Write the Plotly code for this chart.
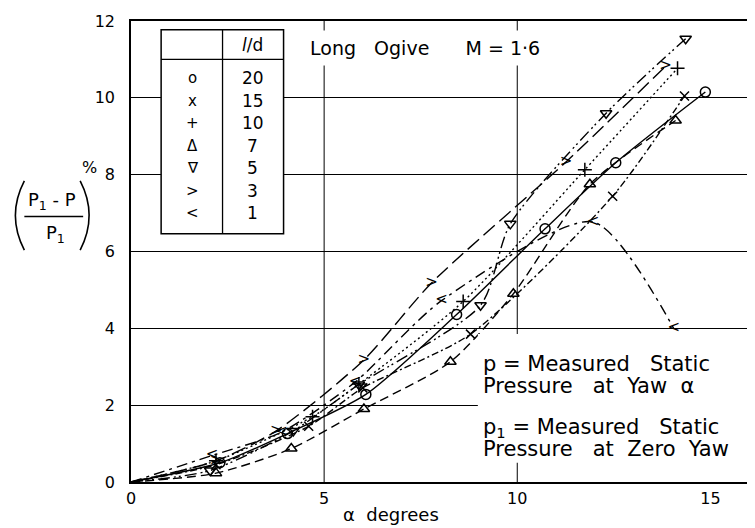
import plotly.graph_objects as go

# ---------------- data ----------------
x_ticks = [0, 5, 10, 15]
y_ticks = [0, 2, 4, 6, 8, 10, 12]

ld_values = ["20", "15", "10", "7", "5", "3", "1"]
ld_symbols = ["o", "x", "+", "Δ", "∇", ">", "<"]

x_20 = [2.3, 4.05, 6.08, 8.43, 10.72, 12.55, 14.87]
y_20 = [0.5, 1.26, 2.28, 4.36, 6.59, 8.31, 10.15]

x_15 = [2.2, 4.6, 6.0, 8.79, 12.47, 14.33]
y_15 = [0.45, 1.45, 2.45, 3.85, 7.44, 10.05]

x_10 = [2.2, 4.7, 5.9, 8.6, 11.75, 14.15]
y_10 = [0.55, 1.7, 2.55, 4.7, 8.13, 10.77]

x_7 = [2.2, 4.15, 6.03, 8.27, 9.9, 11.88, 14.1]
y_7 = [0.23, 0.87, 1.9, 3.13, 4.9, 7.75, 9.41]

x_5 = [2.05, 4.2, 5.9, 9.05, 9.82, 12.3, 14.36]
y_5 = [0.3, 1.33, 2.54, 4.6, 6.72, 9.6, 11.54]

x_3 = [2.2, 3.76, 6.03, 7.78, 11.26, 13.84]
y_3 = [0.55, 1.33, 3.18, 5.18, 8.33, 10.82]

x_1 = [2.1, 3.9, 5.8, 8.04, 11.96, 14.05]
y_1 = [0.69, 1.3, 2.6, 4.72, 6.77, 4.0]

series = [
    (x_20, y_20, "solid", dict(kind="marker", symbol="circle-open", size=10)),
    (x_15, y_15, "7px,3px,2px,3px", dict(kind="marker", symbol="x-thin-open", size=9)),
    (x_10, y_10, "2px,3px", dict(kind="marker", symbol="cross-thin-open", size=10)),
    (x_7, y_7, "9px,5px", dict(kind="marker", symbol="triangle-up-open", size=10)),
    (x_5, y_5, "12px,4px,2px,3px,2px,4px", dict(kind="marker", symbol="triangle-down-open", size=10)),
    (x_3, y_3, "15px,6px", dict(kind="text", text=">")),
    (x_1, y_1, "11px,5px,3px,5px", dict(kind="text", text="<")),
]

FONT = "DejaVu Sans"
fig = go.Figure()

for xs, ys, dash, mk in series:
    fig.add_trace(go.Scatter(
        x=[0] + xs, y=[0] + ys, mode="lines",
        line=dict(color="black", width=1.4, dash=dash, shape="spline", smoothing=0.7),
        showlegend=False, hoverinfo="skip"))
    if mk["kind"] == "marker":
        fig.add_trace(go.Scatter(
            x=xs, y=ys, mode="markers",
            marker=dict(symbol=mk["symbol"], size=mk["size"], color="black",
                        line=dict(color="black", width=1.5)),
            showlegend=False, hoverinfo="skip"))
    else:
        fig.add_trace(go.Scatter(
            x=xs, y=ys, mode="text", text=[mk["text"]] * len(xs),
            textposition="middle center",
            textfont=dict(family=FONT, size=15, color="black"),
            showlegend=False, hoverinfo="skip"))

# screenshot pixel -> paper helpers (plot area: x 131..751, y 15..482)
def px2x(px):
    return (px - 131) / 620.0

def py2y(py):
    return (482 - py) / 467.0

shapes = []
for gx in [5, 10]:
    shapes.append(dict(type="line", xref="x", yref="y", x0=gx, x1=gx, y0=0, y1=12,
                       line=dict(color="black", width=1), layer="below"))

# legend table
tx0, tx1, tdiv = 0.78, 3.95, 2.37
ty0, ty1, thead = 6.46, 11.77, 11.0
shapes.append(dict(type="rect", xref="x", yref="y", x0=tx0, x1=tx1, y0=ty0, y1=ty1,
                   fillcolor="white", line=dict(color="black", width=1.5), layer="above"))
shapes.append(dict(type="line", xref="x", yref="y", x0=tdiv, x1=tdiv, y0=ty0, y1=ty1,
                   line=dict(color="black", width=1.3), layer="above"))
shapes.append(dict(type="line", xref="x", yref="y", x0=tx0, x1=tx1, y0=thead, y1=thead,
                   line=dict(color="black", width=1.3), layer="above"))

# lower-right note box (white, covers grid)
shapes.append(dict(type="rect", xref="x", yref="y", x0=8.98, x1=15.96, y0=0.5, y1=3.85,
                   fillcolor="white", line=dict(width=0), layer="above"))

# y-axis title parentheses and fraction bar
shapes.append(dict(type="path", xref="paper", yref="paper",
                   path=f"M {px2x(24)},{py2y(177)} Q {px2x(6)},{py2y(212)} {px2x(24)},{py2y(247)}",
                   line=dict(color="black", width=1.6)))
shapes.append(dict(type="path", xref="paper", yref="paper",
                   path=f"M {px2x(80)},{py2y(177)} Q {px2x(98)},{py2y(212)} {px2x(80)},{py2y(247)}",
                   line=dict(color="black", width=1.6)))
shapes.append(dict(type="line", xref="paper", yref="paper",
                   x0=px2x(24), x1=px2x(83), y0=py2y(213), y1=py2y(213),
                   line=dict(color="black", width=1.5)))


def ann(x, y, text, size, xref="x", yref="y", xanchor="center", **kw):
    return dict(x=x, y=y, xref=xref, yref=yref, text=text, showarrow=False,
                xanchor=xanchor, yanchor="middle",
                font=dict(family=FONT, size=size, color="black"), **kw)


annotations = []
annotations.append(ann(3.15, 11.38, "<i>l</i>/d", 17))
for i, (sym, val) in enumerate(zip(ld_symbols, ld_values)):
    ry = 10.51 - 0.585 * i
    annotations.append(ann(1.6, ry, sym, 15))
    annotations.append(ann(3.15, ry, val, 17))

annotations.append(ann(4.45, 11.3, "Long   Ogive      M = 1·6", 19, xanchor="left",
                       bgcolor="white", borderpad=6))

note_lines = ["p = Measured   Static", "Pressure   at  Yaw  α",
              "p<sub>1</sub> = Measured   Static", "Pressure   at  Zero  Yaw"]
note_y = [3.08, 2.49, 1.41, 0.85]
for t, yy in zip(note_lines, note_y):
    annotations.append(ann(9.06, yy, t, 21, xanchor="left"))

annotations.append(ann(px2x(52), py2y(197), "P<sub>1</sub> - P", 18, xref="paper", yref="paper"))
annotations.append(ann(px2x(55), py2y(231), "P<sub>1</sub>", 18, xref="paper", yref="paper"))
annotations.append(ann(px2x(89), py2y(163), "%", 16, xref="paper", yref="paper"))
annotations.append(ann(px2x(392), py2y(515), "α  degrees", 18, xref="paper", yref="paper"))

# page body has an 8px default margin, so the figure is offset by 8px
fig.update_layout(
    width=747, height=520,
    margin=dict(l=123, r=4, t=7, b=46, pad=0),
    plot_bgcolor="white", paper_bgcolor="white",
    shapes=shapes, annotations=annotations,
    showlegend=False,
    xaxis=dict(range=[0, 16], tickvals=x_ticks, ticktext=[str(v) for v in x_ticks],
               showgrid=False, zeroline=False, showline=True, mirror=True,
               linecolor="black", linewidth=1.5, ticks="outside", ticklen=1,
               tickcolor="rgba(0,0,0,0)", ticklabeloverflow="allow",
               tickfont=dict(family=FONT, size=16, color="black")),
    yaxis=dict(range=[0, 12], tickvals=y_ticks, ticktext=[str(v) for v in y_ticks],
               showgrid=True, gridcolor="black", gridwidth=1, zeroline=False,
               showline=True, mirror=True, linecolor="black", linewidth=1.5,
               ticks="outside", ticklen=11, tickcolor="rgba(0,0,0,0)",
               ticklabeloverflow="allow",
               tickfont=dict(family=FONT, size=16, color="black")),
)

fig.write_html("out.html")
